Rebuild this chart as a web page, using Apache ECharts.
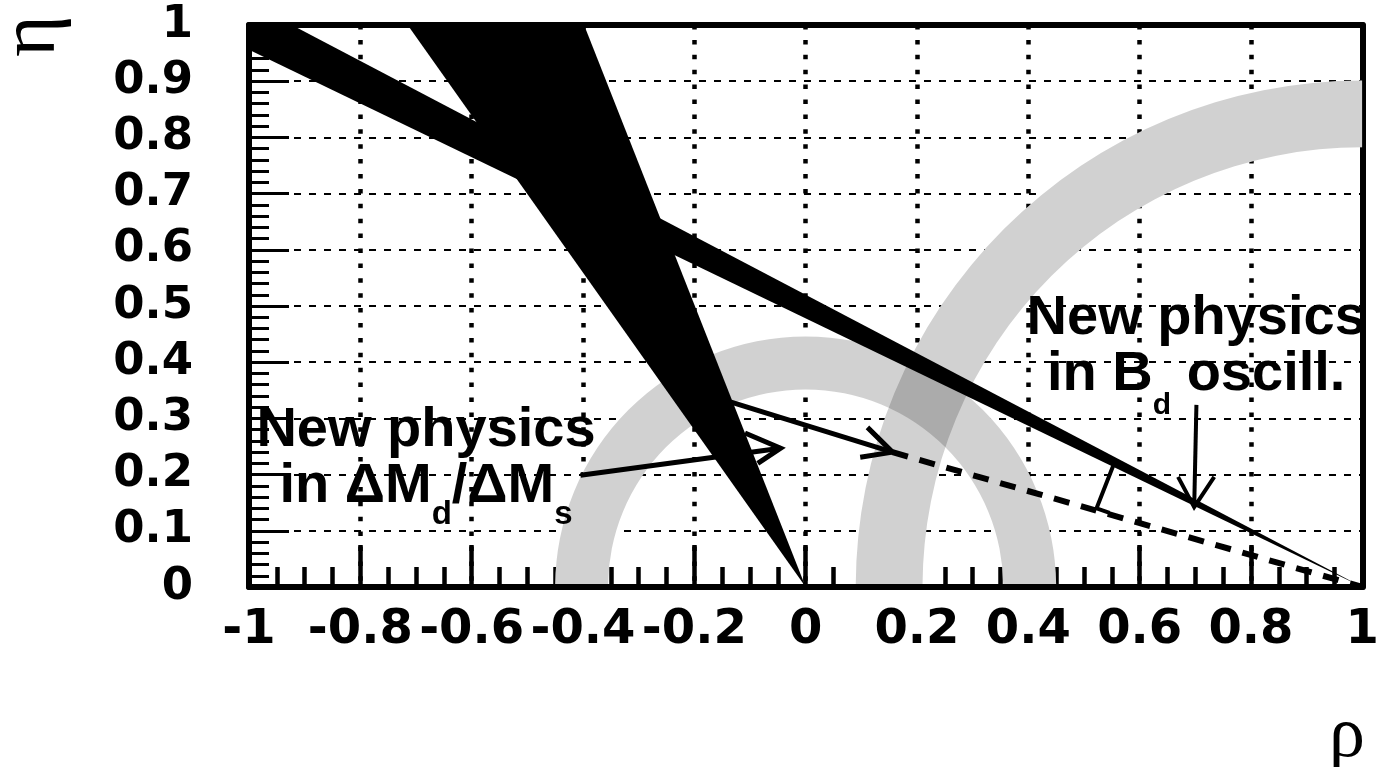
<!DOCTYPE html>
<html>
<head>
<meta charset="utf-8">
<title>ρ–η plane</title>
<script src="https://cdn.jsdelivr.net/npm/echarts@6/dist/echarts.min.js"></script>
<style>
  html, body { margin: 0; padding: 0; background: #ffffff; }
  #chart { width: 1382px; height: 767px; }
</style>
</head>
<body>
<div id="chart"></div>
<script>
// ---- axis ranges and tick labels -------------------------------------
const RHO_MIN = -1, RHO_MAX = 1, RHO_STEP = 0.2;
const ETA_MIN = 0, ETA_MAX = 1, ETA_STEP = 0.1;
const RHO_LABELS = ['-1', '-0.8', '-0.6', '-0.4', '-0.2', '0', '0.2', '0.4', '0.6', '0.8', '1'];
const ETA_LABELS = ['0', '0.1', '0.2', '0.3', '0.4', '0.5', '0.6', '0.7', '0.8', '0.9', '1'];

// ---- constraint regions in the (ρ, η) plane ---------------------------
// sin2β band: two rays leaving (1, 0), cut at the frame
const SIN2B_BAND = [[1, 0], [-1, 0.956], [-1, 1], [-0.923, 1]];
// γ wedge with its apex at the origin
const GAMMA_WEDGE = [[0, 0], [-0.715, 1], [-0.398, 1]];
// annuli: [centre ρ, centre η, inner radius, outer radius, from angle°, to angle°]
const RB_RING = [0, 0, 0.355, 0.45, 0, 180];
const RT_RING = [1, 0, 0.79, 0.91, 90, 180];

// ---- arrows and guide lines (ρ, η) ------------------------------------
const ARROW_DMS_LINE = [[-0.4045, 0.199], [-0.045, 0.247]];
const ARROW_DMS_HEAD = [[-0.109, 0.274], [-0.045, 0.247], [-0.086, 0.220]];
const ARROW_APEX_LINE = [[-0.134, 0.329], [0.156, 0.240]];
const ARROW_APEX_HEAD = [[0.111, 0.284], [0.156, 0.240], [0.098, 0.231]];
const ARROW_BD_LINE = [[0.702, 0.324], [0.698, 0.142]];
const ARROW_BD_HEAD = [[0.669, 0.196], [0.698, 0.142], [0.734, 0.196]];
const SHIFTED_SIDE = [[0.156, 0.240], [1, 0]];
const ANGLE_MARK = [[0.553, 0.217], [0.5226, 0.140], [0.546, 0.132]];

// ---- annotations: anchor = (ρ of the text centre, η of the first line top)
const NOTE_DMS_AT = [-0.682, 0.329];
const NOTE_DMS_TEXT = ['New physics', '{m|in ΔM}{s|d}{m|/ΔM}{s|s}'];
const NOTE_BD_AT = [0.7016, 0.528];
const NOTE_BD_TEXT = ['New physics', '{m|in B}{s|d}{m| oscill.}'];

const SANS = 'Liberation Sans';
const TICK_FONT = 'DejaVu Sans';
const SERIF = 'Liberation Serif';

const chart = echarts.init(document.getElementById('chart'), null, { renderer: 'canvas' });

function polygonSeries(points, fill, z) {
  return {
    type: 'custom', data: points, z, silent: true, animation: false,
    encode: { x: 0, y: 1 },
    renderItem: (params, api) => params.dataIndex !== 0 ? null : {
      type: 'polygon',
      shape: { points: points.map(p => api.coord(p)) },
      style: { fill }
    }
  };
}

function ringSeries(ring, fill, z) {
  return {
    type: 'custom', data: [ring], z, silent: true, animation: false,
    encode: { x: 0, y: 1 },
    renderItem: (params, api) => {
      const c = api.coord([api.value(0), api.value(1)]);
      const r0 = api.size([api.value(2), 0])[0];
      const r1 = api.size([api.value(3), 0])[0];
      const cs = params.coordSys;
      return {
        type: 'sector',
        shape: {
          cx: c[0], cy: c[1], r0: r0, r: r1,
          startAngle: -api.value(5) * Math.PI / 180,
          endAngle: -api.value(4) * Math.PI / 180,
          clockwise: true
        },
        style: { fill },
        // keep the bottom frame line visible under the ring feet
        clipPath: { type: 'rect', shape: { x: cs.x, y: cs.y, width: cs.width, height: cs.height - 3 } }
      };
    }
  };
}

function pathSeries(points, width, z, dash) {
  return {
    type: 'line', data: points, symbol: 'none', silent: true, animation: false, z,
    lineStyle: { color: '#000', width, type: dash || 'solid', cap: 'butt', join: 'miter' }
  };
}

function noteSeries(at, lines, subSize, subDrop, z) {
  return {
    type: 'custom', data: [at], z, silent: true, animation: false,
    encode: { x: 0, y: 1 },
    renderItem: (params, api) => {
      const p = api.coord([api.value(0), api.value(1)]);
      return {
        type: 'group',
        children: [
          {
            type: 'text', x: p[0], y: p[1] + 28,
            style: {
              text: lines[0], fill: '#000', fontFamily: SANS, fontWeight: 'bold', fontSize: 56,
              align: 'center', verticalAlign: 'middle'
            }
          },
          {
            type: 'text', x: p[0], y: p[1] + 56,
            style: {
              text: lines[1], fill: '#000', fontFamily: SANS, fontWeight: 'bold', fontSize: 56,
              align: 'center', verticalAlign: 'top',
              rich: {
                m: { fontFamily: SANS, fontWeight: 'bold', fontSize: 56, lineHeight: 56, verticalAlign: 'top', fill: '#000' },
                s: { fontFamily: SANS, fontWeight: 'bold', fontSize: subSize, lineHeight: subSize, verticalAlign: 'top', padding: [subDrop, 0, 0, 0], fill: '#000' }
              }
            }
          }
        ]
      };
    }
  };
}

const frameLine = { show: true, onZero: false, lineStyle: { color: '#000', width: 6 } };

const option = {
  animation: false,
  backgroundColor: '#ffffff',
  grid: { left: 249, right: 15, top: 25, bottom: 180 },
  xAxis: [
    {
      type: 'value', position: 'bottom', min: RHO_MIN, max: RHO_MAX, interval: RHO_STEP,
      axisLine: frameLine,
      axisTick: { show: true, inside: true, length: 42, lineStyle: { color: '#000', width: 4.5 } },
      minorTick: { show: true, splitNumber: 4, length: 20, lineStyle: { color: '#000', width: 4.5 } },
      splitLine: { show: true, lineStyle: { color: '#000', width: 4.5, type: [4.5, 10.4] } },
      axisLabel: {
        show: true, margin: 20, color: '#000', fontFamily: TICK_FONT, fontWeight: 'bold', fontSize: 48,
        showMinLabel: true, showMaxLabel: true,
        formatter: v => RHO_LABELS[Math.round((v - RHO_MIN) / RHO_STEP)]
      }
    },
    {
      type: 'value', position: 'top', min: RHO_MIN, max: RHO_MAX, interval: RHO_STEP,
      axisLine: frameLine, axisTick: { show: false }, axisLabel: { show: false }, splitLine: { show: false }
    }
  ],
  yAxis: [
    {
      type: 'value', position: 'left', min: ETA_MIN, max: ETA_MAX, interval: ETA_STEP,
      axisLine: frameLine,
      axisTick: { show: true, inside: true, length: 40, lineStyle: { color: '#000', width: 3 } },
      minorTick: { show: true, splitNumber: 5, length: 20, lineStyle: { color: '#000', width: 3 } },
      splitLine: { show: true, lineStyle: { color: '#000', width: 2, type: [7, 8] } },
      axisLabel: {
        show: true, margin: 56, color: '#000', fontFamily: TICK_FONT, fontWeight: 'bold', fontSize: 45,
        showMinLabel: true, showMaxLabel: true,
        formatter: v => ETA_LABELS[Math.round((v - ETA_MIN) / ETA_STEP)]
      }
    },
    {
      type: 'value', position: 'right', min: ETA_MIN, max: ETA_MAX, interval: ETA_STEP,
      axisLine: frameLine, axisTick: { show: false }, axisLabel: { show: false }, splitLine: { show: false }
    }
  ],
  graphic: [
    {
      type: 'text', x: 33, y: 36, rotation: Math.PI / 2, z: 100,
      style: { text: 'η', fill: '#000', fontFamily: SERIF, fontSize: 80, align: 'center', verticalAlign: 'middle' }
    },
    {
      type: 'text', x: 1347, y: 737, z: 100,
      style: { text: 'ρ', fill: '#000', fontFamily: SERIF, fontSize: 72, align: 'center', verticalAlign: 'middle' }
    }
  ],
  series: [
    // opaque base of the two annuli, then the grey tint (darker where they overlap)
    ringSeries(RB_RING, '#ffffff', 1),
    ringSeries(RT_RING, '#ffffff', 1),
    ringSeries(RB_RING, 'rgba(0,0,0,0.18)', 2),
    ringSeries(RT_RING, 'rgba(0,0,0,0.18)', 2),
    // solid constraints
    polygonSeries(SIN2B_BAND, '#000', 3),
    polygonSeries(GAMMA_WEDGE, '#000', 3),
    // arrows, shifted triangle side and angle mark
    pathSeries(ARROW_DMS_LINE, 5, 4),
    pathSeries(ARROW_DMS_HEAD, 5, 4),
    pathSeries(ARROW_APEX_LINE, 5, 4),
    pathSeries(ARROW_APEX_HEAD, 5, 4),
    pathSeries(ARROW_BD_LINE, 4, 4),
    pathSeries(ARROW_BD_HEAD, 4, 4),
    pathSeries(SHIFTED_SIDE, 6, 4, [16, 12]),
    pathSeries(ANGLE_MARK, 4, 4),
    // text annotations
    noteSeries(NOTE_DMS_AT, NOTE_DMS_TEXT, 33, 40, 5),
    noteSeries(NOTE_BD_AT, NOTE_BD_TEXT, 30, 44, 5)
  ]
};

chart.setOption(option);
</script>
</body>
</html>
